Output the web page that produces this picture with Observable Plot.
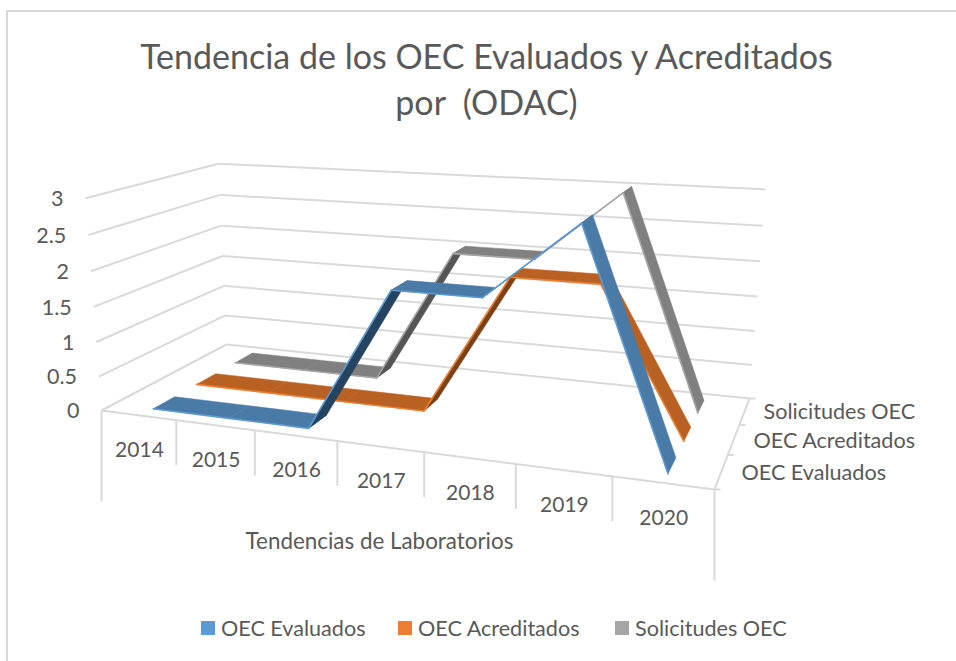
<!DOCTYPE html>
<html><head><meta charset="utf-8">
<script src="https://cdn.jsdelivr.net/npm/d3@7"></script>
<script src="https://cdn.jsdelivr.net/npm/@observablehq/plot@0.6"></script>
<style>
html,body{margin:0;padding:0;background:#fff;}
body{width:956px;height:661px;position:relative;overflow:hidden;font-family:Lato,"Open Sans",sans-serif;color:#595959;}
#frameL{position:absolute;left:6px;top:10px;width:2px;height:651px;background:#d9d9d9;}
#frameT{position:absolute;left:6px;top:10px;width:950px;height:2px;background:#d9d9d9;}
#title{position:absolute;left:0;top:33px;width:973px;text-align:center;font-size:34px;line-height:46px;}
#chart{position:absolute;left:0;top:130px;}
#legend{position:absolute;left:0;top:615px;width:956px;height:26px;font-size:21.6px;}
#legend span{position:absolute;top:0;white-space:nowrap;line-height:26px;}
#legend i{position:absolute;top:6px;width:14px;height:14px;}
</style></head><body>
<div id="frameL"></div><div id="frameT"></div>
<div id="title">Tendencia de los OEC Evaluados y Acreditados<br>por&nbsp; (ODAC)</div>
<div id="chart"></div>
<div id="legend"></div>
<script>
const years = ["2014","2015","2016","2017","2018","2019","2020"];
const seriesNames = ["OEC Evaluados","OEC Acreditados","Solicitudes OEC"];
const evaluados   = [0,0,0,2,2,3,0];
const acreditados = [0,0,0,0,2,2,0];
const solicitudes = [0,0,0,2,2,3,0];
const zTicks = [0,0.5,1,1.5,2,2.5,3];
const zLabels = ["0","0.5","1","1.5","2","2.5","3"];

const lightColors = ["#5b9bd5","#ed7d31","#a5a5a5"];
const topColors   = ["#4a7aa6","#b86122","#808080"];
const underColors = ["#26435f","#7a4218","#555555"];

// Camera calibration: floor corners and three wall-top corners on the page
const FL=[101,410],FR=[714,489],BR=[749,398],BL=[226,344];
const TFL=[85,197],TBL=[218,162],TBR=[765,191];
const zMax=3;

// floor homography (u,v)->(X,Y,W): unit square to the quad
function squareToQuad(p0,p1,p2,p3){ // (0,0),(1,0),(1,1),(0,1)
  const dx1=p1[0]-p2[0],dx2=p3[0]-p2[0],sx=p0[0]-p1[0]+p2[0]-p3[0];
  const dy1=p1[1]-p2[1],dy2=p3[1]-p2[1],sy=p0[1]-p1[1]+p2[1]-p3[1];
  const den=dx1*dy2-dx2*dy1;
  const g=(sx*dy2-dx2*sy)/den,h=(dx1*sy-sx*dy1)/den;
  return [[p1[0]-p0[0]+g*p1[0],p3[0]-p0[0]+h*p3[0],p0[0]],
          [p1[1]-p0[1]+g*p1[1],p3[1]-p0[1]+h*p3[1],p0[1]],
          [g,h,1]];
}
const H=squareToQuad(FL,FR,BR,BL);
const hom=(u,v)=>[H[0][0]*u+H[0][1]*v+H[0][2],H[1][0]*u+H[1][1]*v+H[1][2],H[2][0]*u+H[2][1]*v+H[2][2]];
// vertical column (a,b,c) of the camera by least squares on the wall-top corners
function solveZ(){
  const rows=[],rhs=[];
  for(const [u,v,s] of [[0,0,TFL],[0,1,TBL],[1,1,TBR]]){
    const [X,Y,W]=hom(u,v);
    rows.push([zMax,0,-s[0]*zMax]);rhs.push(s[0]*W-X);
    rows.push([0,zMax,-s[1]*zMax]);rhs.push(s[1]*W-Y);
  }
  const A=[[0,0,0,0],[0,0,0,0],[0,0,0,0]];
  rows.forEach((r,k)=>{for(let i=0;i<3;i++){for(let j=0;j<3;j++)A[i][j]+=r[i]*r[j];A[i][3]+=r[i]*rhs[k];}});
  for(let i=0;i<3;i++){
    let m=i;for(let k=i+1;k<3;k++)if(Math.abs(A[k][i])>Math.abs(A[m][i]))m=k;
    [A[i],A[m]]=[A[m],A[i]];
    for(let k=0;k<3;k++)if(k!==i){const f=A[k][i]/A[i][i];for(let j=i;j<4;j++)A[k][j]-=f*A[i][j];}
  }
  return [A[0][3]/A[0][0],A[1][3]/A[1][1],A[2][3]/A[2][2]];
}
const Zc=solveZ();
const proj=(u,v,z)=>{const [X,Y,W]=hom(u,v);const w=W+Zc[2]*z;return [(X+Zc[0]*z)/w,(Y+Zc[1]*z)/w];};

const n=years.length;
const uOf=i=>(i+0.5)/n;
const ribbonU=i=>uOf(i)+(i<n-1?0.005:0.001);
const vOf=s=>(s+0.5)/3;
const halfDepth=0.08;

const allValues=[evaluados,acreditados,solicitudes];

// ribbon quads, painted from back to front
const quads=[];
[2,1,0].forEach(s=>{
  const vals=allValues[s],v=vOf(s);
  d3.range(n-1).forEach(i=>{
    const u0=ribbonU(i),u1=ribbonU(i+1),z0=vals[i],z1=vals[i+1];
    const a=proj(u0,v-halfDepth,z0),b=proj(u1,v-halfDepth,z1),c=proj(u1,v+halfDepth,z1),d=proj(u0,v+halfDepth,z0);
    // signed area tells whether we look at the upper or the under side
    const area=(b[0]-a[0])*(d[1]-a[1])-(b[1]-a[1])*(d[0]-a[0]);
    const id=`${s}-${i}`;
    const fill=area<0?topColors[s]:underColors[s];
    [a,b,c,d,a].forEach(p=>quads.push({id,x:p[0],y:p[1],fill}));
    quads.push({id:id+"e",x:a[0],y:a[1],edge:lightColors[s]},{id:id+"e",x:b[0],y:b[1],edge:lightColors[s]});
  });
});
const faces=quads.filter(d=>d.fill), edges=quads.filter(d=>d.edge);

// walls
const grid="#d9d9d9";
const links=[];
zTicks.forEach(z=>{
  const f=proj(0,0,z),b=proj(0,1,z),r=proj(1,1,z);
  links.push({a:f,b},{a:b,b:r});
});
links.push({a:proj(0,0,0),b:proj(1,0,0)},{a:proj(1,0,0),b:proj(1,1,0)});
d3.range(n+1).forEach(i=>{
  const p=proj(i/n,0,0),len=(i===0||i===n)?91:45;
  links.push({a:p,b:[p[0],p[1]+len]});
});
[0,1/3,2/3,1].forEach(v=>{const p=proj(1,v,0);links.push({a:p,b:[p[0]+6,p[1]]});});

const plot=Plot.plot({
  width:956,height:470,
  marginLeft:0,marginRight:0,marginTop:0,marginBottom:0,
  x:{domain:[0,956],range:[0,956],axis:null},
  y:{domain:[130,600],range:[0,470],axis:null},
  style:{background:"transparent",fontFamily:"Lato, 'Open Sans', sans-serif"},
  marks:[
    Plot.link(links,{x1:d=>d.a[0],y1:d=>d.a[1],x2:d=>d.b[0],y2:d=>d.b[1],stroke:grid,strokeWidth:2}),
    ...[2,1,0].flatMap(s=>d3.range(n-1).flatMap(i=>[
      Plot.line(faces.filter(d=>d.id===`${s}-${i}`),{x:"x",y:"y",fill:d=>d.fill,stroke:d=>d.fill,strokeWidth:0.5,curve:"linear"}),
      Plot.line(edges.filter(d=>d.id===`${s}-${i}e`),{x:"x",y:"y",stroke:lightColors[s],strokeWidth:1.6})
    ])),
    Plot.text(zTicks,{x:z=>proj(0,0,z)[0]-22,y:z=>proj(0,0,z)[1]+1,text:(z,i)=>zLabels[i],textAnchor:"end",fontSize:21.5,fill:"#595959"}),
    Plot.text(years,{x:(d,i)=>proj(uOf(i),0,0)[0]+1,y:(d,i)=>proj(uOf(i),0,0)[1]+35,text:d=>d,fontSize:21,fill:"#595959"}),
    Plot.text(seriesNames,{x:(d,s)=>[741,753,763][s],y:(d,s)=>[473,441,412][s],text:d=>d,textAnchor:"start",fontSize:21.6,fill:"#595959"}),
    Plot.text(["Tendencias de Laboratorios"],{x:379,y:541,text:d=>d,fontSize:22.4,fill:"#595959"})
  ]
});
document.getElementById("chart").appendChild(plot);

const legend=document.getElementById("legend");
[[201,221],[398,418],[615,635]].forEach(([sx,tx],i)=>{
  const sq=document.createElement("i");sq.style.left=sx+"px";sq.style.background=lightColors[i];legend.appendChild(sq);
  const t=document.createElement("span");t.style.left=tx+"px";t.textContent=seriesNames[i];legend.appendChild(t);
});
</script>
</body></html>
